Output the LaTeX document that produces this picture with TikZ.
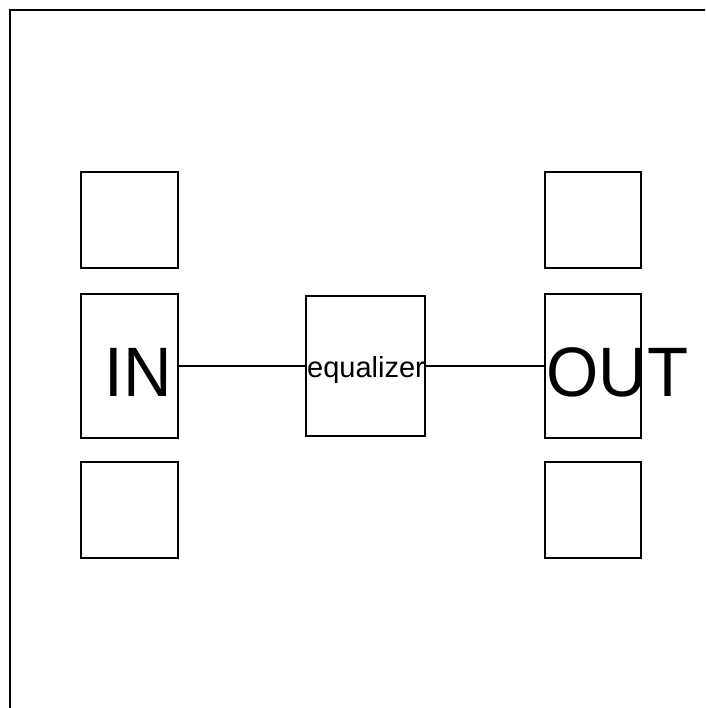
\documentclass[tikz,border=0pt]{standalone}
\usepackage{fontspec}
\setmainfont{Liberation Sans}
\begin{document}
\begin{tikzpicture}[x=1pt,y=-1pt,line width=1.1pt,
  boxsq/.style={draw,line width=1.1pt,inner sep=0pt,outer sep=0pt,minimum width=#1},
  boxsq/.default=97pt,
  conn/.style={draw,line width=1.1pt},
  bigtext/.style={anchor=base,inner sep=0pt,font=\fontsize{70}{84}\selectfont}]
\useasboundingbox (0,0) rectangle (705,708);
\draw[line width=1.3pt] (10,708) -- (10,10) -- (705,10);
% left column
\node[boxsq,minimum height=96pt] (lt) at (129.5,220) {};
\node[boxsq,minimum height=144pt] (lm) at (129.5,366) {};
\node[boxsq,minimum height=96pt] (lb) at (129.5,510) {};
% right column
\node[boxsq=96pt,minimum height=96pt] (rt) at (593,220) {};
\node[boxsq=96pt,minimum height=144pt] (rm) at (593,366) {};
\node[boxsq=96pt,minimum height=96pt] (rb) at (593,510) {};
% equalizer
\node[boxsq=119pt,minimum height=140pt] (eqbox) at (365.5,366) {};
\draw[conn] (lm.east) -- (eqbox.west);
\draw[conn] (eqbox.east) -- (rm.west);
\node[bigtext] (in) at (138,396) {\scalebox{0.96}[1]{IN}};
\node[bigtext] (out) at (617.5,396) {\scalebox{0.96}[1]{OUT}};
\node[anchor=base,inner sep=0pt,font=\fontsize{29}{34}\selectfont] (eq) at (366,377) {equalizer};
\end{tikzpicture}
\end{document}
